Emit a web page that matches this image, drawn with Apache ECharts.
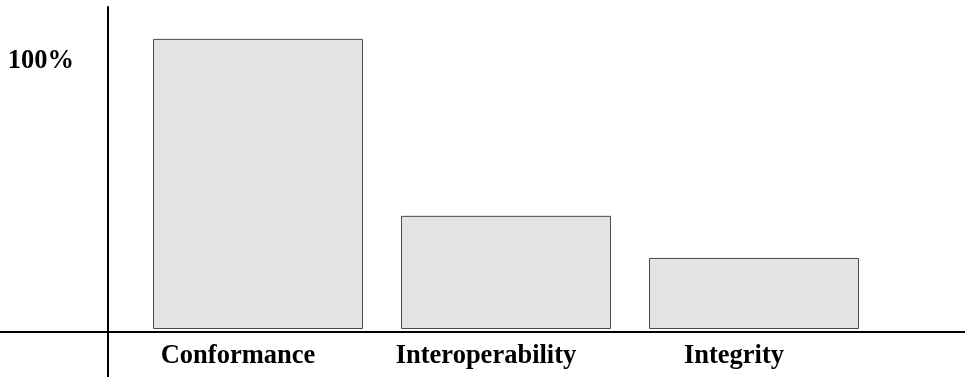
<!DOCTYPE html>
<html>
<head>
<meta charset="utf-8">
<script src="https://cdn.jsdelivr.net/npm/echarts@6/dist/echarts.min.js"></script>
<style>html,body{margin:0;padding:0;background:#fff}#chart{width:965px;height:377px}</style>
</head>
<body>
<div id="chart"></div>
<script>
const categories = ['Conformance', 'Interoperability', 'Integrity'];
const values = [108.2, 42.2, 26.5];
const yTickValues = [100];
const yTickLabels = ['100%'];

const font = 'Liberation Serif, Times New Roman, serif';
const chart = echarts.init(document.getElementById('chart'));
chart.setOption({
  animation: false,
  backgroundColor: '#ffffff',
  grid: [
    { left: 134, right: 87, top: 7, bottom: 48, containLabel: false, outerBoundsMode: 'none' },
    { left: 0, right: 0, top: 7, bottom: 0, containLabel: false, outerBoundsMode: 'none' }
  ],
  xAxis: [
    {
      type: 'category', gridIndex: 0, data: categories,
      axisLine: { show: false },
      axisTick: { show: false },
      axisLabel: {
        color: '#000', fontFamily: font, fontWeight: 'bold', fontSize: 26.5,
        margin: 14, padding: [0, 40, 0, 0]
      }
    },
    {
      type: 'value', gridIndex: 1, min: -108, max: 857,
      axisLine: { show: true, onZero: true, lineStyle: { color: '#000', width: 2 } },
      axisTick: { show: false }, axisLabel: { show: false }, splitLine: { show: false }
    }
  ],
  yAxis: [
    {
      type: 'value', gridIndex: 0, min: 0, max: 120.1, interval: 100,
      axisLine: { show: false },
      axisTick: { show: false }, splitLine: { show: false },
      axisLabel: {
        customValues: yTickValues,
        margin: 60, color: '#000', fontFamily: font, fontWeight: 'bold', fontSize: 26.5,
        formatter: function (v) { const i = yTickValues.indexOf(v); return i >= 0 ? yTickLabels[i] : ''; }
      }
    },
    {
      type: 'value', gridIndex: 1, min: -45, max: 325,
      axisLine: { show: true, onZero: true, lineStyle: { color: '#000', width: 2 } },
      axisTick: { show: false }, axisLabel: { show: false }, splitLine: { show: false }
    }
  ],
  series: [
    {
      type: 'bar', xAxisIndex: 0, yAxisIndex: 0, data: values, barWidth: 210,
      itemStyle: { color: '#e3e3e3', borderColor: '#4a4a4a', borderWidth: 1 },
      silent: true
    }
  ]
});
</script>
</body>
</html>
